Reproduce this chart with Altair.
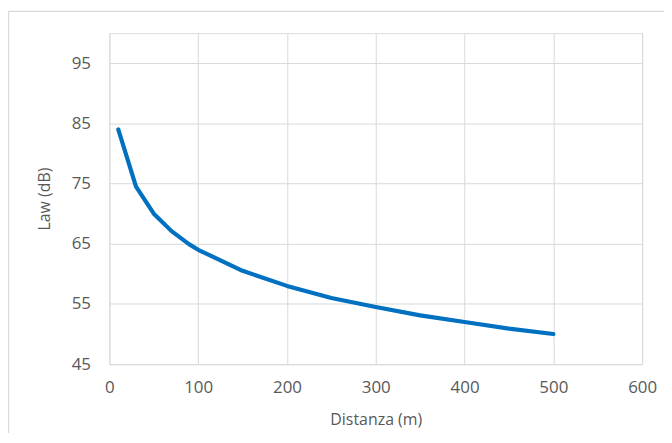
import altair as alt
import pandas as pd

distanza = [10, 30, 50, 70, 90, 100, 150, 200, 250, 300, 350, 400, 450, 500]
law = [84.0, 74.5, 70.0, 67.1, 64.9, 64.0, 60.5, 58.0, 56.0, 54.5, 53.1, 52.0, 50.9, 50.0]
x_ticks = [0, 100, 200, 300, 400, 500, 600]
y_ticks = [45, 55, 65, 75, 85, 95]

df = pd.DataFrame({"Distanza": distanza, "Law": law})

FONT = "Open Sans"
GRAY = "#595959"
GRID = "#d9d9d9"

border = alt.Chart(pd.DataFrame({"a": [0]})).mark_rect(
    fill=None, stroke=GRID, strokeWidth=1.3, clip=False
).encode(
    x=alt.value(-101.5), x2=alt.value(640), y=alt.value(-22), y2=alt.value(500)
)

line = alt.Chart(df).mark_line(
    color="#0070C0", strokeWidth=4.2, strokeCap="round", strokeJoin="round"
).encode(
    x=alt.X("Distanza:Q", scale=alt.Scale(domain=[0, 600], nice=False),
            axis=alt.Axis(values=x_ticks, title="Distanza (m)", grid=True,
                          gridColor=GRID, domainColor=GRID, ticks=False,
                          labelFlush=False,
                          labelFont=FONT, labelFontSize=17, labelColor=GRAY,
                          labelPadding=16, titleFont=FONT, titleFontSize=16,
                          titleFontWeight="normal", titleColor=GRAY, titlePadding=16)),
    y=alt.Y("Law:Q", scale=alt.Scale(domain=[45, 100], nice=False, zero=False),
            axis=alt.Axis(values=y_ticks, title="Law (dB)", grid=True,
                          gridColor=GRID, domain=False, ticks=False,
                          labelFont=FONT, labelFontSize=17, labelColor=GRAY,
                          labelPadding=19, titleFont=FONT, titleFontSize=16,
                          titleFontWeight="normal", titleColor=GRAY, titlePadding=19)),
)

chart = alt.layer(border, line).properties(
    width=536, height=333,
    autosize=alt.AutoSizeParams(type="none"),
    padding={"left": 102, "top": 24, "right": 22, "bottom": 68},
).configure_view(stroke=None).configure(background="white")

chart.save("out.html", embed_options={"renderer": "svg", "actions": False})
